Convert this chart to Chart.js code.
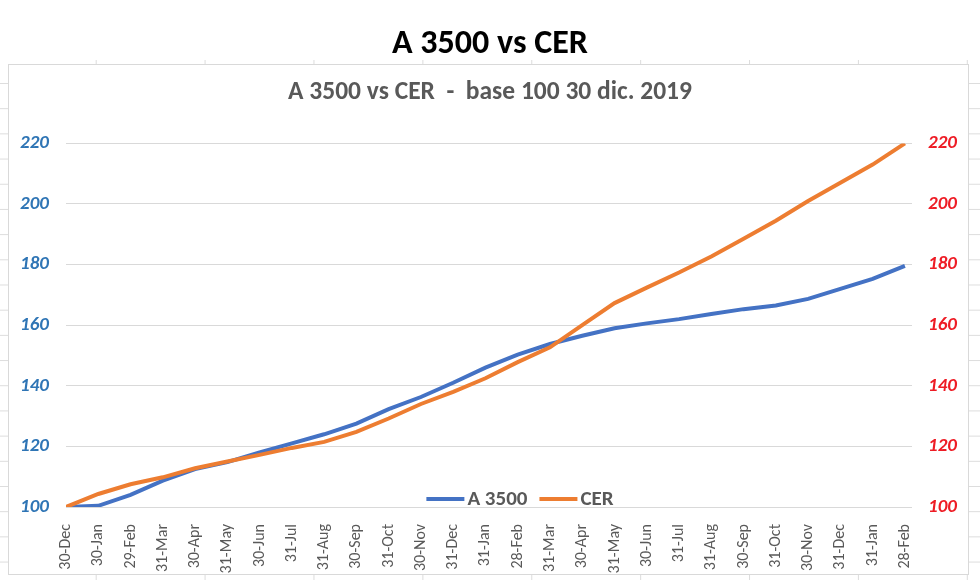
<!DOCTYPE html>
<html>
<head>
<meta charset="utf-8">
<script src="https://cdn.jsdelivr.net/npm/chart.js@4.4.1/dist/chart.umd.min.js"></script>
<style>
  html, body { margin: 0; padding: 0; background: #fff; overflow: hidden; }
  #sheet {
    position: absolute; left: 0; top: 60px; width: 980px; height: 520px;
    background-image: linear-gradient(to right, #dcdcdc 1px, transparent 1px),
                      linear-gradient(to bottom, #dcdcdc 1px, transparent 1px);
    background-size: 108.9px 100%, 100% 25.2px;
    background-position: 95.7px 0, 0 23px;
  }
  #frame {
    position: absolute; left: 8px; top: 64px; width: 961px; height: 511px;
    box-sizing: border-box; border: 1px solid #d9d9d9; background: #fff;
  }
  #wrap { position: absolute; left: 0; top: 0; width: 980px; height: 580px; }
</style>
</head>
<body>
<div id="sheet"></div>
<div id="frame"></div>
<div id="wrap"><canvas id="chart"></canvas></div>
<script>
// month-end dates, 30 Dec 2019 .. 28 Feb 2022
const months = ['30-Dec', '30-Jan', '29-Feb', '31-Mar', '30-Apr', '31-May', '30-Jun', '31-Jul',
  '31-Aug', '30-Sep', '31-Oct', '30-Nov', '31-Dec', '31-Jan', '28-Feb', '31-Mar', '30-Apr',
  '31-May', '30-Jun', '31-Jul', '31-Aug', '30-Sep', '31-Oct', '30-Nov', '31-Dec', '31-Jan', '28-Feb'];

// base 100 = 30 dic. 2019
const a3500 = [100, 100.4, 104, 108.7, 112.5, 114.8, 118, 121, 124, 127.5, 132.3, 136.3, 141,
  146, 150.3, 153.8, 156.5, 159, 160.6, 162, 163.7, 165.3, 166.5, 168.7, 172, 175.3, 179.6];
const cer = [100, 104.3, 107.5, 109.8, 112.8, 115, 117.2, 119.5, 121.5, 124.8, 129.2, 134, 138,
  142.5, 147.8, 152.7, 160, 167.3, 172.4, 177.4, 182.7, 188.5, 194.5, 201, 207, 213, 220];

const yTicks = [100, 120, 140, 160, 180, 200, 220];

const FONT = 'Carlito, Lato, "Open Sans", sans-serif';

// Excel-style legend sitting inside the plot, near the bottom
const insideLegend = {
  id: 'insideLegend',
  afterDraw(chart, args, opts) {
    const ctx = chart.ctx;
    const sets = chart.data.datasets;
    ctx.save();
    ctx.font = 'bold 21px ' + FONT;
    ctx.textBaseline = 'middle';
    let total = 0;
    sets.forEach((ds, i) => {
      total += opts.lineLen + opts.gap + ctx.measureText(ds.label).width;
      if (i < sets.length - 1) total += opts.spacing;
    });
    let x = opts.centerX - total / 2;
    sets.forEach(ds => {
      ctx.strokeStyle = ds.borderColor;
      ctx.lineWidth = 4;
      ctx.beginPath();
      ctx.moveTo(x, opts.y);
      ctx.lineTo(x + opts.lineLen, opts.y);
      ctx.stroke();
      x += opts.lineLen + opts.gap;
      ctx.fillStyle = '#595959';
      ctx.fillText(ds.label, x, opts.y + 1);
      x += ctx.measureText(ds.label).width + opts.spacing;
    });
    ctx.restore();
  }
};

new Chart(document.getElementById('chart').getContext('2d'), {
  type: 'line',
  data: {
    datasets: [
      {
        label: 'A 3500',
        data: a3500.map((v, i) => ({ x: i, y: v })),
        borderColor: '#4472C4',
        backgroundColor: '#4472C4',
        borderWidth: 4,
        pointRadius: 0,
        tension: 0,
        yAxisID: 'y',
        order: 1
      },
      {
        label: 'CER',
        data: cer.map((v, i) => ({ x: i, y: v })),
        borderColor: '#ED7D31',
        backgroundColor: '#ED7D31',
        borderWidth: 4,
        pointRadius: 0,
        tension: 0,
        yAxisID: 'y1',
        order: 0
      }
    ]
  },
  options: {
    responsive: true,
    maintainAspectRatio: false,
    animation: false,
    layout: { padding: 0 },
    plugins: {
      legend: { display: false },
      tooltip: { enabled: false },
      title: {
        display: true,
        text: 'A 3500 vs CER',
        color: '#000',
        font: { family: FONT, size: 34, weight: 'bold' },
        padding: { top: 24, bottom: 13 }
      },
      subtitle: {
        display: true,
        text: 'A 3500 vs CER  -  base 100 30 dic. 2019',
        color: '#595959',
        font: { family: FONT, size: 25.5, weight: 'bold' },
        padding: { top: 0, bottom: 35 }
      },
      insideLegend: { centerX: 520, y: 499, lineLen: 38, gap: 3, spacing: 12 }
    },
    scales: {
      x: {
        type: 'linear',
        min: 0,
        max: 26.22,
        grid: { display: false },
        border: { display: false },
        afterFit(scale) { scale.height = 73; },
        ticks: {
          stepSize: 1,
          autoSkip: false,
          includeBounds: false,
          maxTicksLimit: 40,
          maxRotation: 90,
          minRotation: 90,
          padding: 9,
          color: '#595959',
          font: { family: FONT, size: 16 },
          callback: v => months[v] !== undefined ? months[v] : ''
        }
      },
      y: {
        position: 'left',
        min: 100,
        max: 220,
        afterFit(scale) { scale.width = 66; },
        afterBuildTicks(scale) { scale.ticks = yTicks.map(v => ({ value: v })); },
        grid: { color: '#d9d9d9', lineWidth: 1, drawTicks: false },
        border: { display: false },
        ticks: {
          padding: 17,
          color: '#2F75B5',
          font: { family: FONT, size: 19, weight: 'bold', style: 'italic' }
        }
      },
      y1: {
        position: 'right',
        min: 100,
        max: 220,
        afterFit(scale) { scale.width = 68; },
        afterBuildTicks(scale) { scale.ticks = yTicks.map(v => ({ value: v })); },
        grid: { drawOnChartArea: false, drawTicks: false },
        border: { display: false },
        ticks: {
          padding: 16,
          color: '#EE1C25',
          font: { family: FONT, size: 19, weight: 'bold', style: 'italic' }
        }
      }
    }
  },
  plugins: [insideLegend]
});
</script>
</body>
</html>
